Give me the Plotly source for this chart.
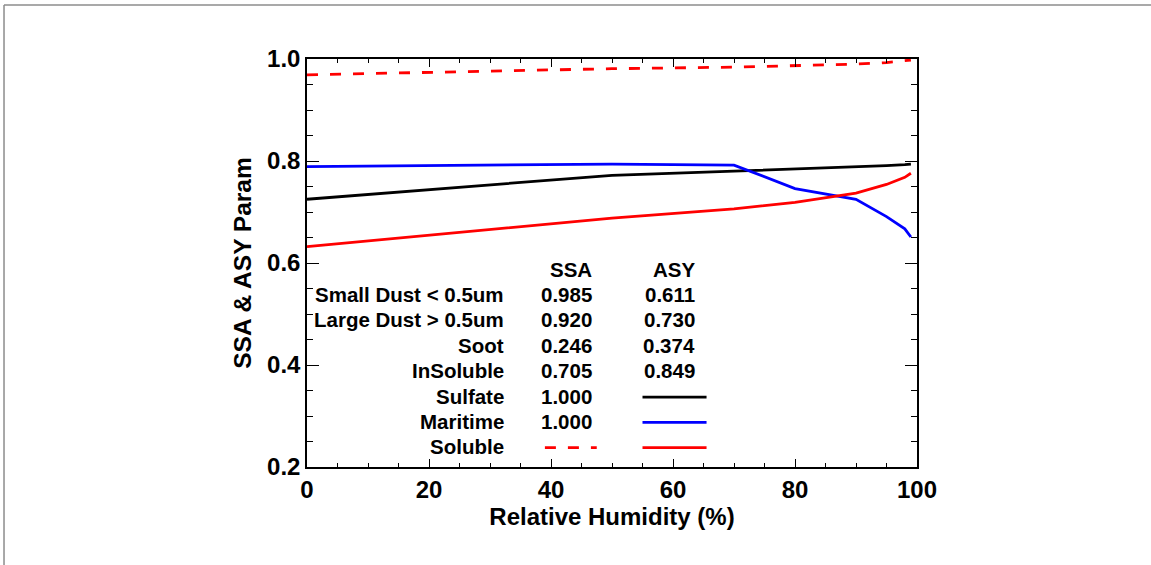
import plotly.graph_objects as go

# Relative humidity grid (%)
rh = [0, 50, 70, 80, 90, 95, 98, 99]

# Asymmetry parameter / single-scattering albedo vs RH
sulfate_asy = [0.725, 0.772, 0.780, 0.784, 0.788, 0.791, 0.793, 0.794]
maritime_asy = [0.789, 0.794, 0.792, 0.746, 0.725, 0.691, 0.667, 0.651]
soluble_ssa = [0.969, 0.981, 0.984, 0.987, 0.990, 0.993, 0.996, 0.998]
soluble_asy = [0.632, 0.688, 0.706, 0.719, 0.737, 0.754, 0.768, 0.776]

# Table of constant (RH-independent) aerosol properties
species = ["Small Dust < 0.5um", "Large Dust > 0.5um", "Soot", "InSoluble",
           "Sulfate", "Maritime", "Soluble"]
ssa_text = ["0.985", "0.920", "0.246", "0.705", "1.000", "1.000", ""]
asy_text = ["0.611", "0.730", "0.374", "0.849", "", "", ""]

FONT = "Liberation Sans, Arial, Helvetica, sans-serif"
RED, BLUE, BLACK = "#ff0000", "#0000ff", "#000000"
DASH = "11px,12px"
LW = 2.8

fig = go.Figure()

curves = [
    (soluble_ssa, RED, DASH),
    (sulfate_asy, BLACK, "solid"),
    (maritime_asy, BLUE, "solid"),
    (soluble_asy, RED, "solid"),
]
for ys, color, dash in curves:
    fig.add_trace(go.Scatter(x=rh, y=ys, mode="lines",
                             line=dict(color=color, width=LW, dash=dash),
                             showlegend=False, hoverinfo="skip"))

# In-plot table layout (data coordinates)
header_y = 0.587
row_y0 = 0.538
row_step = 0.0497
label_x = 32.7
ssa_x = 47.0
asy_x = 63.9

annotations = []
txt = dict(family=FONT, size=20.5, color="black", weight="bold")
annotations.append(dict(x=ssa_x, y=header_y, text="SSA", xref="x", yref="y",
                        xanchor="right", yanchor="middle", showarrow=False, font=txt))
annotations.append(dict(x=asy_x, y=header_y, text="ASY", xref="x", yref="y",
                        xanchor="right", yanchor="middle", showarrow=False, font=txt))
for i, name in enumerate(species):
    y = row_y0 - i * row_step
    annotations.append(dict(x=label_x, y=y, text=name, xref="x", yref="y",
                            xanchor="right", yanchor="middle", showarrow=False, font=txt))
    if ssa_text[i]:
        annotations.append(dict(x=ssa_x, y=y, text=ssa_text[i], xref="x", yref="y",
                                xanchor="right", yanchor="middle", showarrow=False, font=txt))
    if asy_text[i]:
        annotations.append(dict(x=asy_x, y=y, text=asy_text[i], xref="x", yref="y",
                                xanchor="right", yanchor="middle", showarrow=False, font=txt))

# Line samples next to the RH-dependent entries
shapes = []
def row_y(i):
    return row_y0 - i * row_step - 0.002

samples = [
    (55.0, 65.5, 4, BLACK, "solid"),
    (55.0, 65.5, 5, BLUE, "solid"),
    (39.0, 47.5, 6, RED, DASH),
    (55.0, 65.5, 6, RED, "solid"),
]
for x0, x1, i, color, dash in samples:
    shapes.append(dict(type="line", xref="x", yref="y", x0=x0, x1=x1,
                       y0=row_y(i), y1=row_y(i),
                       line=dict(color=color, width=LW, dash=dash)))

# Thin grey page frame along the top and left edges
shapes.append(dict(type="line", xref="paper", yref="paper",
                   x0=-0.4967, x1=1.4, y0=1.1324, y1=1.1324,
                   line=dict(color="#8c8c8c", width=1.5)))
shapes.append(dict(type="line", xref="paper", yref="paper",
                   x0=-0.4967, x1=-0.4967, y0=1.1324, y1=-0.3,
                   line=dict(color="#8c8c8c", width=1.5)))

axis_common = dict(showgrid=False, zeroline=False, showline=True,
                   linecolor="black", linewidth=1.5, mirror="allticks",
                   ticks="inside", tickcolor="black", tickwidth=1.2,
                   tickfont=dict(family=FONT, size=24, color="black", weight="bold"))

fig.update_layout(
    width=1151, height=565,
    margin=dict(l=307, r=234, t=59, b=98),
    paper_bgcolor="white", plot_bgcolor="white",
    showlegend=False,
    annotations=annotations,
    shapes=shapes,
    xaxis=dict(range=[0, 100], tick0=0, dtick=20, ticklen=8,
               minor=dict(dtick=5, ticklen=4, ticks="inside", tickcolor="black", tickwidth=1.2),
               title=dict(text="Relative Humidity (%)", standoff=6,
                          font=dict(family=FONT, size=24, color="black", weight="bold")),
               **axis_common),
    yaxis=dict(range=[0.2, 1.0], tick0=0.2, dtick=0.2, tickformat=".1f", ticklen=12,
               minor=dict(dtick=0.05, ticklen=6, ticks="inside", tickcolor="black", tickwidth=1.2),
               title=dict(text="SSA & ASY Param", standoff=9,
                          font=dict(family=FONT, size=24.5, color="black", weight="bold")),
               **axis_common),
)

fig.write_html("out.html")
